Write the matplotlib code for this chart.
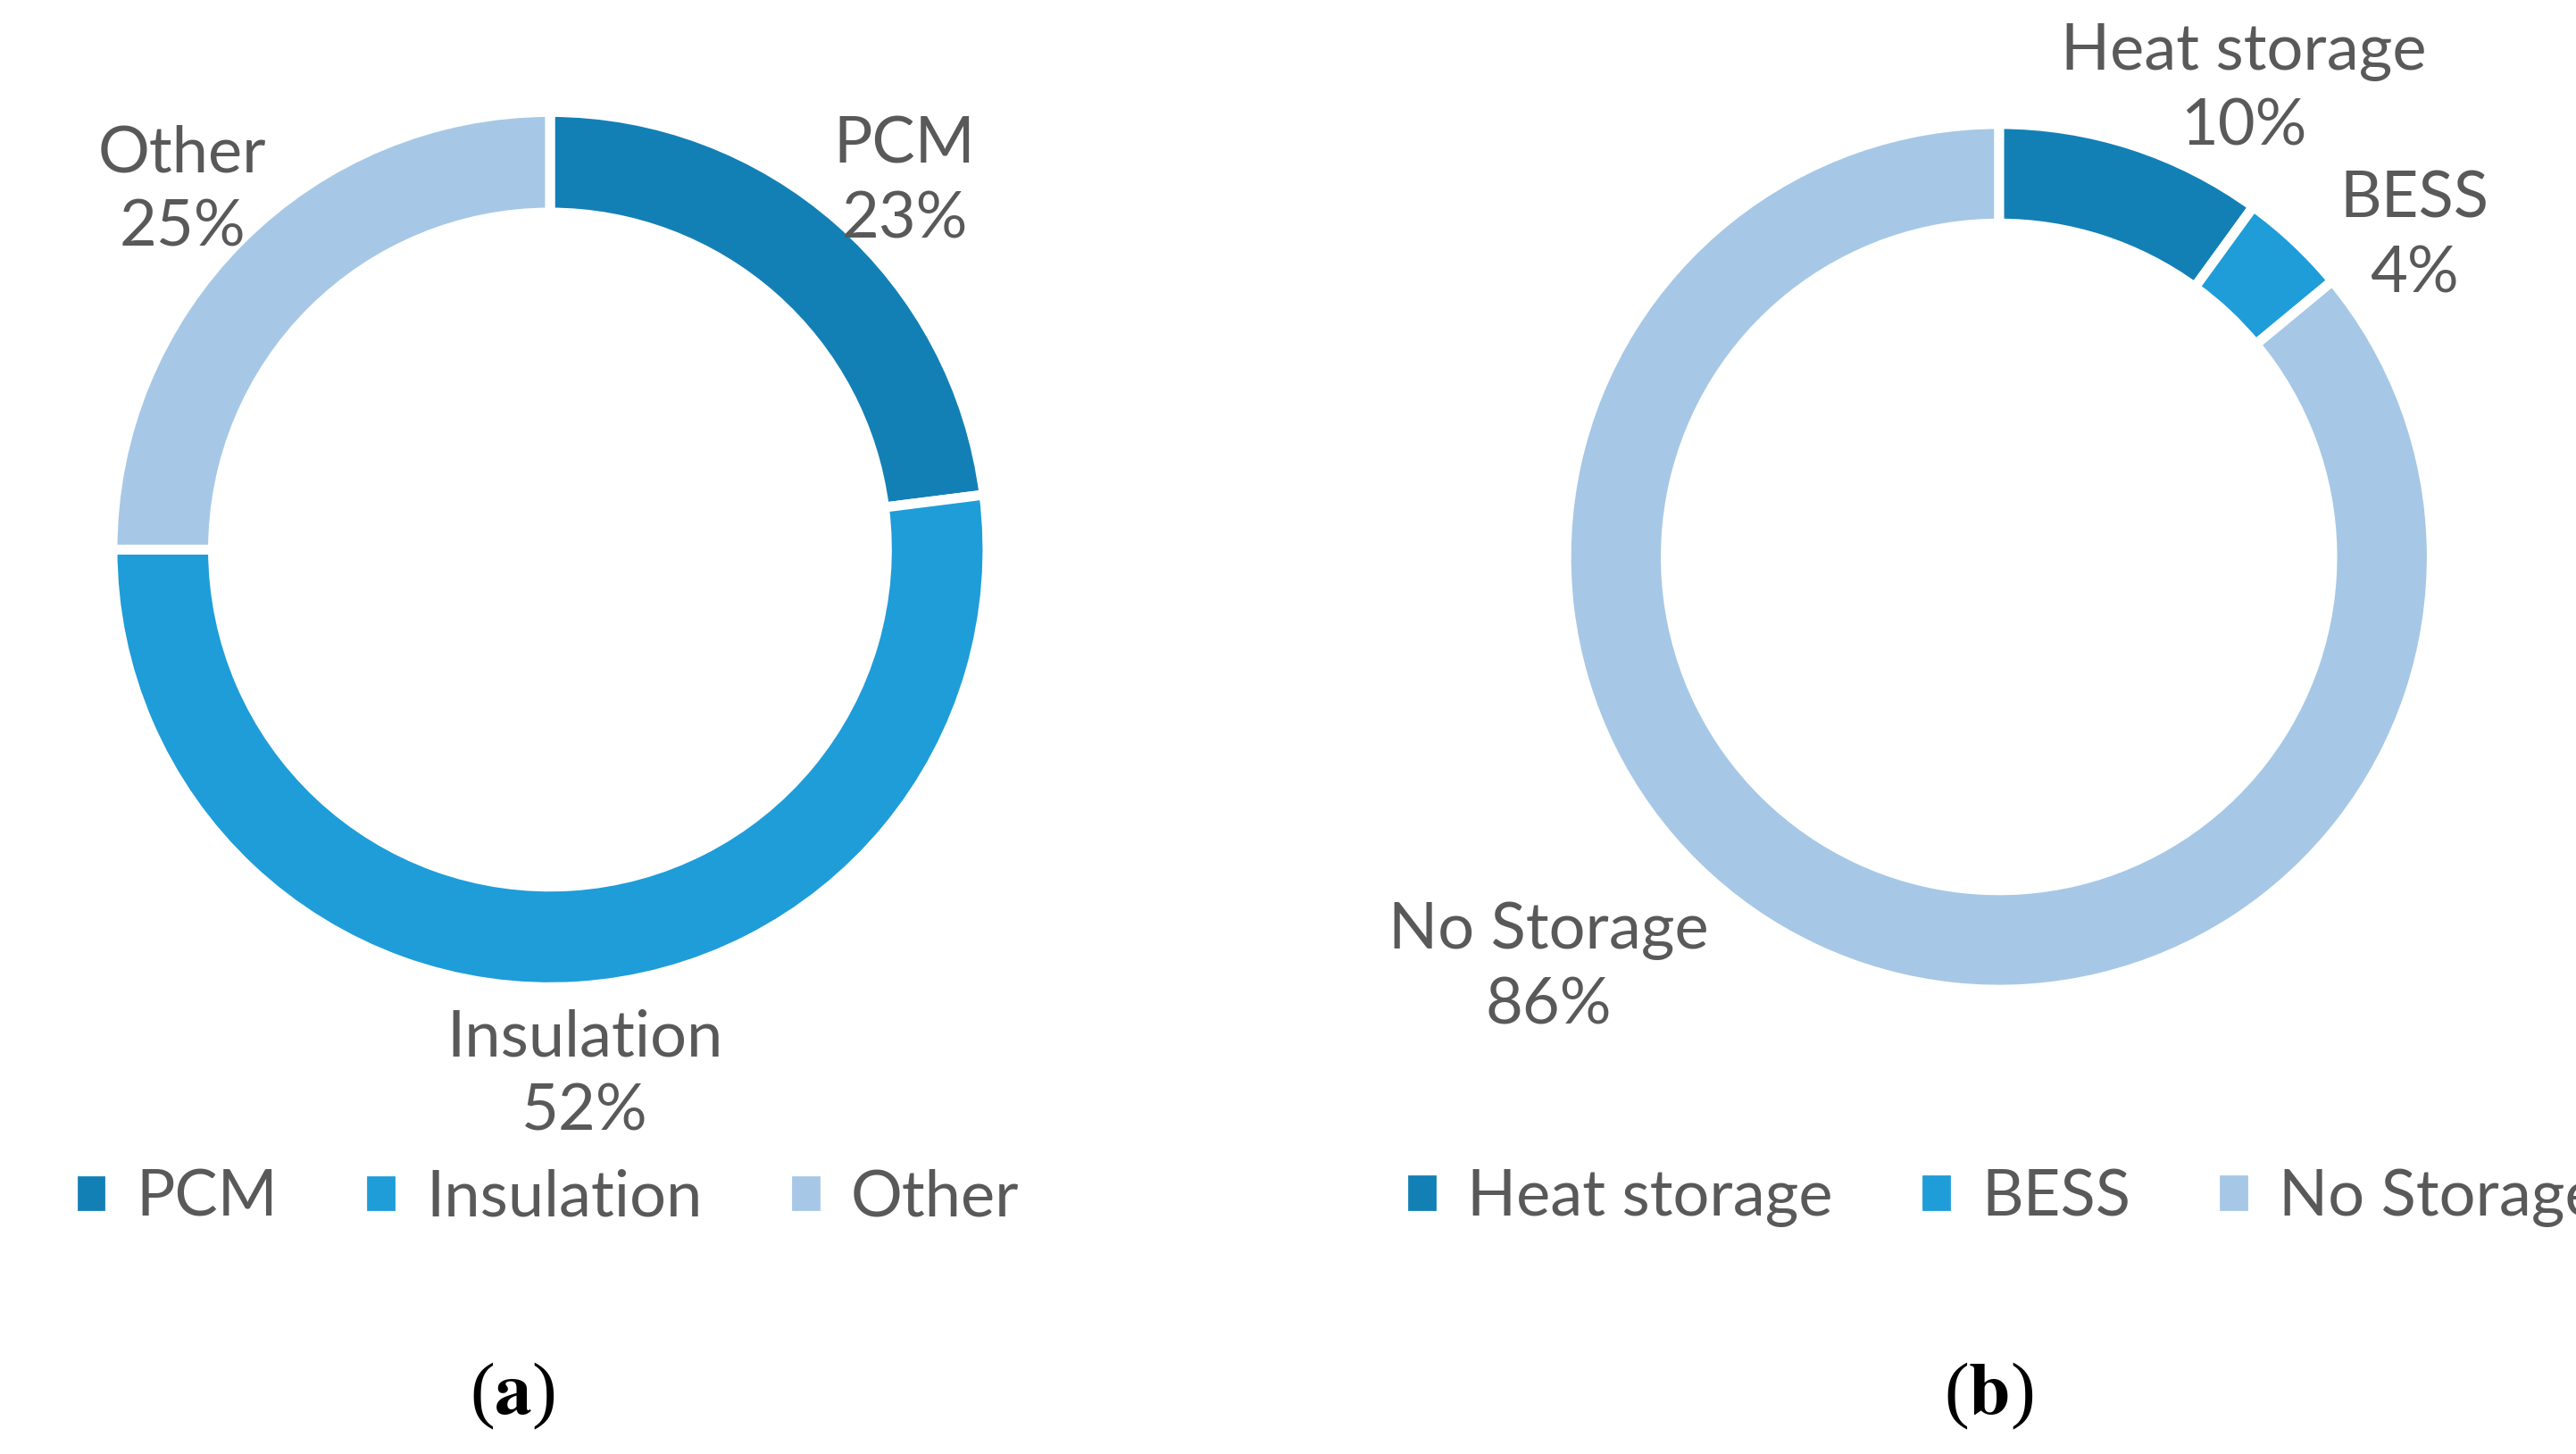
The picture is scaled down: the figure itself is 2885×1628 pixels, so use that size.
import matplotlib.pyplot as plt
from matplotlib.patches import Patch

plt.rcParams['font.family'] = ['Lato', 'DejaVu Sans']
plt.rcParams['mathtext.fontset'] = 'stix'

# (a) building measures
labels_a = ['PCM', 'Insulation', 'Other']
values_a = [23, 52, 25]
# (b) storage
labels_b = ['Heat storage', 'BESS', 'No Storage']
values_b = [10, 4, 86]

colors = ['#1380b5', '#1e9dd9', '#a6c8e6']
grey = '#595959'
fs = 26

fig = plt.figure(figsize=(14.425, 8.14), dpi=200)


def donut(ax, values, labels, label_pos):
    ax.pie(values, colors=colors, startangle=90, counterclock=False,
           wedgeprops=dict(width=0.23, edgecolor='white', linewidth=4))
    for lab, v, (x, y) in zip(labels, values, label_pos):
        ax.text(x, y, f'{lab}\n{v}%', ha='center', va='center', fontsize=fs,
                color=grey, linespacing=1.35)
    ax.set_xlim(-1, 1)
    ax.set_ylim(-1, 1)
    ax.set_aspect('equal')
    ax.axis('off')


ax1 = fig.add_axes([0.2135 - 0.17, 0.622 - 0.301, 0.34, 0.602])
donut(ax1, values_a, labels_a, [(0.81, 0.84), (0.08, -1.2), (-0.84, 0.82)])

ax2 = fig.add_axes([0.776 - 0.168, 0.617 - 0.298, 0.336, 0.596])
donut(ax2, values_b, labels_b, [(0.565, 1.08), (0.96, 0.74), (-1.04, -0.95)])

for labels, cx in [(labels_a, 0.213), (labels_b, 0.778)]:
    handles = [Patch(color=c, label=l) for c, l in zip(colors, labels)]
    fig.legend(handles=handles, loc='center', bbox_to_anchor=(cx, 0.176), ncol=3,
               frameon=False, fontsize=fs, labelcolor=grey, handlelength=0.4,
               handleheight=0.4, handletextpad=0.5, columnspacing=1.4)

fig.text(0.199, 0.04, r'($\mathbf{a}$)', ha='center', va='center', fontsize=30,
         family='Liberation Serif')
fig.text(0.772, 0.04, r'($\mathbf{b}$)', ha='center', va='center', fontsize=30,
         family='Liberation Serif')

fig.savefig('out.png')
